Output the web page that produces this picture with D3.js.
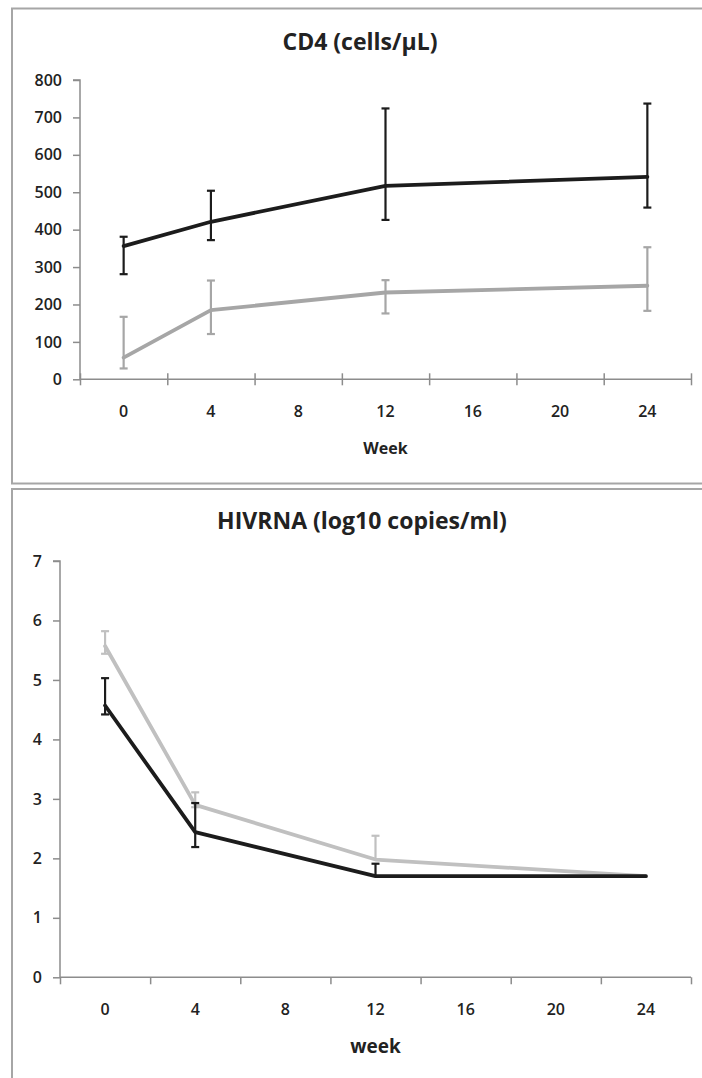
<!DOCTYPE html>
<html>
<head>
<meta charset="utf-8">
<script src="https://cdn.jsdelivr.net/npm/d3@7/dist/d3.min.js"></script>
<style>
  html, body { margin: 0; padding: 0; background: #fff; }
  svg { display: block; }
  text { font-family: "Open Sans", "DejaVu Sans", sans-serif; fill: #222; }
</style>
</head>
<body>
<svg id="chart" width="702" height="1078"></svg>
<script>
// ---- Data ----
const weekCategories = ["0", "4", "8", "12", "16", "20", "24"];
const dataWeeks = ["0", "4", "12", "24"];

const cd4Ticks = [0, 100, 200, 300, 400, 500, 600, 700, 800];
const cd4Black = [356, 421, 517, 541];
const cd4BlackLow = [281, 372, 426, 459];
const cd4BlackHigh = [381, 504, 724, 737];
const cd4Gray = [58, 185, 232, 250];
const cd4GrayLow = [29, 121, 176, 183];
const cd4GrayHigh = [167, 264, 265, 353];

const hivTicks = [0, 1, 2, 3, 4, 5, 6, 7];
const hivBlack = [4.57, 2.44, 1.70, 1.70];
const hivBlackLow = [4.42, 2.19, 1.70, 1.70];
const hivBlackHigh = [5.03, 2.93, 1.91, 1.70];
const hivGray = [5.57, 2.90, 1.98, 1.70];
const hivGrayLow = [5.44, 2.86, 1.98, 1.70];
const hivGrayHigh = [5.82, 3.11, 2.38, 1.70];

const svg = d3.select("#chart");
const axisColor = "#8c8c8c";
const borderColor = "#a6a6a6";

// panel borders
svg.append("rect").attr("x", 12).attr("y", 8.5).attr("width", 720).attr("height", 475)
  .attr("fill", "none").attr("stroke", borderColor).attr("stroke-width", 2);
svg.append("rect").attr("x", 12).attr("y", 489).attr("width", 720).attr("height", 620)
  .attr("fill", "none").attr("stroke", borderColor).attr("stroke-width", 2);

function makeSeries(vals, lows, highs) {
  return vals.map((v, i) => ({ week: dataWeeks[i], v: v, lo: lows[i], hi: highs[i] }));
}

function drawPanel(cfg) {
  const g = svg.append("g");
  const x = d3.scaleBand().domain(weekCategories).range([cfg.x0, cfg.x1]).padding(0);
  const xi = d3.scaleLinear().domain([0, weekCategories.length]).range([cfg.x0, cfg.x1]);
  const y = d3.scaleLinear().domain(cfg.yDomain).range([cfg.yBottom, cfg.yTop]);

  // title
  g.append("text").attr("x", cfg.titleX).attr("y", cfg.titleY)
    .attr("text-anchor", "middle").attr("font-size", 23).attr("font-weight", 700)
    .text(cfg.title);

  // y axis
  const yAxis = g.append("g").attr("transform", `translate(${cfg.x0},0)`)
    .call(d3.axisLeft(y).tickValues(cfg.yTicks).tickSize(7).tickPadding(11).tickFormat(d3.format("d")));
  yAxis.select(".domain").attr("stroke", axisColor).attr("stroke-width", 1.5)
    .attr("d", `M-7,${cfg.yTop}H0V${cfg.yBottom}`);
  yAxis.selectAll(".tick line").attr("stroke", axisColor).attr("stroke-width", 1.5);
  yAxis.selectAll(".tick text").attr("font-size", 16).attr("font-weight", 600)
    .attr("fill", "#222").attr("font-family", "Open Sans");

  // x axis (ticks at category boundaries)
  const xAxis = g.append("g").attr("transform", `translate(0,${cfg.yBottom})`)
    .call(d3.axisBottom(xi).tickValues(d3.range(0, weekCategories.length + 1)).tickSize(cfg.xTickSize).tickFormat(""));
  xAxis.select(".domain").attr("stroke", axisColor).attr("stroke-width", 1.5)
    .attr("d", `M${cfg.x0},0H${cfg.x1}`);
  xAxis.selectAll(".tick line").attr("stroke", axisColor).attr("stroke-width", 1.5)
    .attr("y1", cfg.xTickUp);

  // x category labels
  const xLab = g.append("g").attr("transform", `translate(0,${cfg.xLabelY})`)
    .call(d3.axisBottom(x).tickSize(0).tickPadding(0));
  xLab.select(".domain").remove();
  xLab.selectAll(".tick text").attr("font-size", 16).attr("font-weight", 600)
    .attr("fill", "#222").attr("font-family", "Open Sans").attr("dy", 0);

  // axis title
  g.append("text").attr("x", (cfg.x0 + cfg.x1) / 2).attr("y", cfg.xTitleY)
    .attr("text-anchor", "middle").attr("font-size", cfg.xTitleSize).attr("font-weight", 700)
    .text(cfg.xTitle);

  const cx = d => x(d.week) + x.bandwidth() / 2;
  const line = d3.line().x(cx).y(d => y(d.v));

  cfg.series.forEach(s => {
    const sg = g.append("g");
    sg.append("path").datum(s.data).attr("d", line)
      .attr("fill", "none").attr("stroke", s.color).attr("stroke-width", 3.8)
      .attr("stroke-linejoin", "round").attr("stroke-linecap", "round");
    s.data.forEach(d => {
      const pts = [];
      if (d.hi > d.v) pts.push(d.hi);
      if (d.lo < d.v) pts.push(d.lo);
      if (!pts.length) return;
      const top = Math.max(d.hi, d.v), bot = Math.min(d.lo, d.v);
      sg.append("line").attr("x1", cx(d)).attr("x2", cx(d))
        .attr("y1", y(top)).attr("y2", y(bot))
        .attr("stroke", s.color).attr("stroke-width", 2.2);
      pts.forEach(p => {
        sg.append("line").attr("x1", cx(d) - 4).attr("x2", cx(d) + 4)
          .attr("y1", y(p)).attr("y2", y(p))
          .attr("stroke", s.color).attr("stroke-width", 2.2);
      });
    });
  });
}

drawPanel({
  title: "CD4 (cells/\u00B5L)", titleX: 360, titleY: 50,
  x0: 80, x1: 691, yTop: 80, yBottom: 379.3,
  yDomain: [0, 800], yTicks: cd4Ticks,
  xTickSize: 6, xTickUp: -6,
  xLabelY: 417, xTitle: "Week", xTitleY: 454, xTitleSize: 16,
  series: [
    { color: "#a6a6a6", data: makeSeries(cd4Gray, cd4GrayLow, cd4GrayHigh) },
    { color: "#1c1c1c", data: makeSeries(cd4Black, cd4BlackLow, cd4BlackHigh) }
  ]
});

drawPanel({
  title: "HIVRNA (log10 copies/ml)", titleX: 362, titleY: 529,
  x0: 60, x1: 691, yTop: 561, yBottom: 977.3,
  yDomain: [0, 7], yTicks: hivTicks,
  xTickSize: 7, xTickUp: 0,
  xLabelY: 1015, xTitle: "week", xTitleY: 1053, xTitleSize: 19,
  series: [
    { color: "#c0c0c0", data: makeSeries(hivGray, hivGrayLow, hivGrayHigh) },
    { color: "#1c1c1c", data: makeSeries(hivBlack, hivBlackLow, hivBlackHigh) }
  ]
});
</script>
</body>
</html>
